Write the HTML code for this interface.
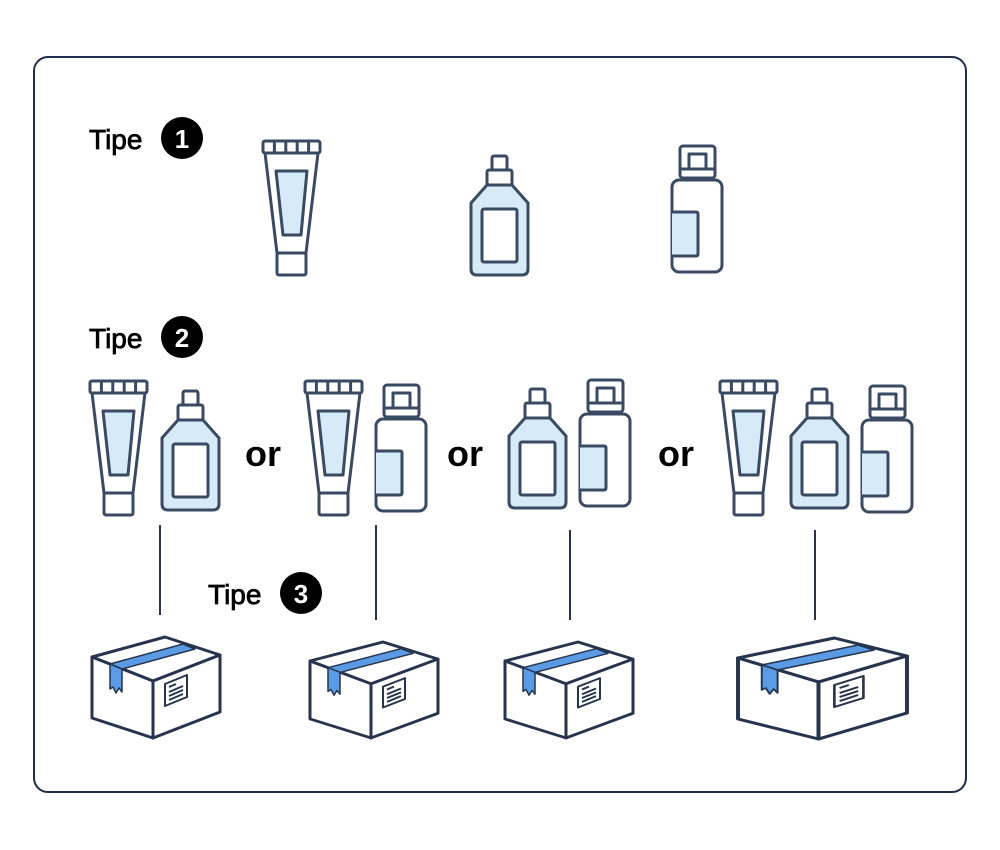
<!DOCTYPE html>
<html><head><meta charset="utf-8"><style>
html,body{margin:0;padding:0;background:#fff;}
svg{display:block;}
</style></head><body>
<svg width="1000" height="850" viewBox="0 0 1000 850" xmlns="http://www.w3.org/2000/svg">
<defs>
<g id="tube" fill="none" stroke="#3a4a63" stroke-width="3" stroke-linejoin="round">
  <path d="M2,13 L55,13 L43,113 L14,113 Z" fill="#fff"/>
  <path d="M13,31 L44,31 L38,95 L20,95 Z" fill="#d6eaf8"/>
  <rect x="14" y="113" width="29" height="22" rx="2" fill="#fff"/>
  <rect x="0" y="1" width="57" height="12" rx="2" fill="#fff"/>
  <path d="M11.4,1 V13 M22.8,1 V13 M34.2,1 V13 M45.6,1 V13"/>
</g>
<g id="bottle" fill="none" stroke="#3a4a63" stroke-width="3" stroke-linejoin="round">
  <rect x="21" y="1" width="15" height="14" rx="2" fill="#fff"/>
  <rect x="16" y="15" width="25" height="15" rx="2" fill="#fff"/>
  <path d="M16,30 L41,30 L57,48 L57,114 Q57,120 51,120 L6,120 Q0,120 0,114 L0,48 Z" fill="#d6eaf8"/>
  <rect x="11" y="54" width="35" height="53" rx="2" fill="#fff"/>
</g>
<g id="pump" fill="none" stroke="#3a4a63" stroke-width="3" stroke-linejoin="round">
  <rect x="8" y="1" width="35" height="32" rx="3" fill="#fff"/>
  <path d="M17,24 V9 H34 V24 M8,24 H43"/>
  <rect x="0" y="35" width="50" height="92" rx="7" fill="#fff"/>
  <path d="M0,67 L24,67 Q26,67 26,69 L26,109 Q26,111 24,111 L0,111" fill="#d6eaf8"/>
</g>
<g id="box" stroke="#26344d" stroke-width="3" stroke-linejoin="round" fill="#fff">
  <path d="M0,20 L73,0 L128,18 L61,44 Z"/>
  <path d="M0,20 L61,44 L61,101 L0,81 Z"/>
  <path d="M61,44 L128,18 L128,75 L61,101 Z"/>
  <path d="M18,27 L30,32 L103,12 L91,7 Z" fill="#5b9be6" stroke-width="1.5"/>
  <path d="M18,27 L30,32 L30,55 L27,51 L24,56 L21,50 L18,52 Z" fill="#5b9be6" stroke-width="1.5"/>
  <path d="M73,47 L95,38 L95,60 L73,69 Z" stroke-width="2"/>
  <path d="M77,50 L84,47 M77,55 L91,49 M77,59 L91,53 M77,63 L91,57" stroke-width="2"/>
</g>
</defs>
<rect x="34" y="57" width="932" height="735" rx="14" fill="#fff" stroke="#1f2d4d" stroke-width="2"/>

<g font-family="Liberation Sans, sans-serif" font-size="28">
  <g fill="#000" stroke="#000" stroke-width="0.8">
  <text x="89" y="149">Tipe</text>
  <text x="89" y="348">Tipe</text>
  <text x="208" y="604">Tipe</text>
  </g>
  <circle cx="182" cy="138" r="21" fill="#000"/>
  <text x="182" y="148" fill="#fff" font-weight="bold" font-size="26" text-anchor="middle">1</text>
  <circle cx="182" cy="337" r="21" fill="#000"/>
  <text x="182" y="347" fill="#fff" font-weight="bold" font-size="26" text-anchor="middle">2</text>
  <circle cx="301" cy="593" r="21" fill="#000"/>
  <text x="301" y="603" fill="#fff" font-weight="bold" font-size="26" text-anchor="middle">3</text>
</g>
<g font-family="Liberation Sans, sans-serif" font-size="36" font-weight="bold" fill="#000">
  <text x="245" y="466">or</text>
  <text x="447" y="466">or</text>
  <text x="658" y="466">or</text>
</g>

<use href="#tube" x="263" y="140"/>
<use href="#bottle" x="471" y="155"/>
<use href="#pump" x="672" y="145"/>

<use href="#tube" x="90" y="380"/>
<use href="#bottle" x="162" y="390"/>
<use href="#tube" x="305" y="380"/>
<use href="#pump" x="376" y="384"/>
<use href="#bottle" x="509" y="388"/>
<use href="#pump" x="580" y="379"/>
<use href="#tube" x="720" y="380"/>
<use href="#bottle" x="791" y="388"/>
<use href="#pump" x="862" y="385"/>

<g stroke="#26344d" stroke-width="2">
  <line x1="160" y1="525" x2="160" y2="615"/>
  <line x1="376" y1="525" x2="376" y2="620"/>
  <line x1="570" y1="530" x2="570" y2="620"/>
  <line x1="815" y1="530" x2="815" y2="620"/>
</g>

<use href="#box" transform="translate(92,637)"/>
<use href="#box" transform="translate(310,642) scale(1,0.95)"/>
<use href="#box" transform="translate(505,642) scale(1,0.95)"/>
<use href="#box" transform="translate(738,638) scale(1.32,1)"/>
</svg>
</body></html>
